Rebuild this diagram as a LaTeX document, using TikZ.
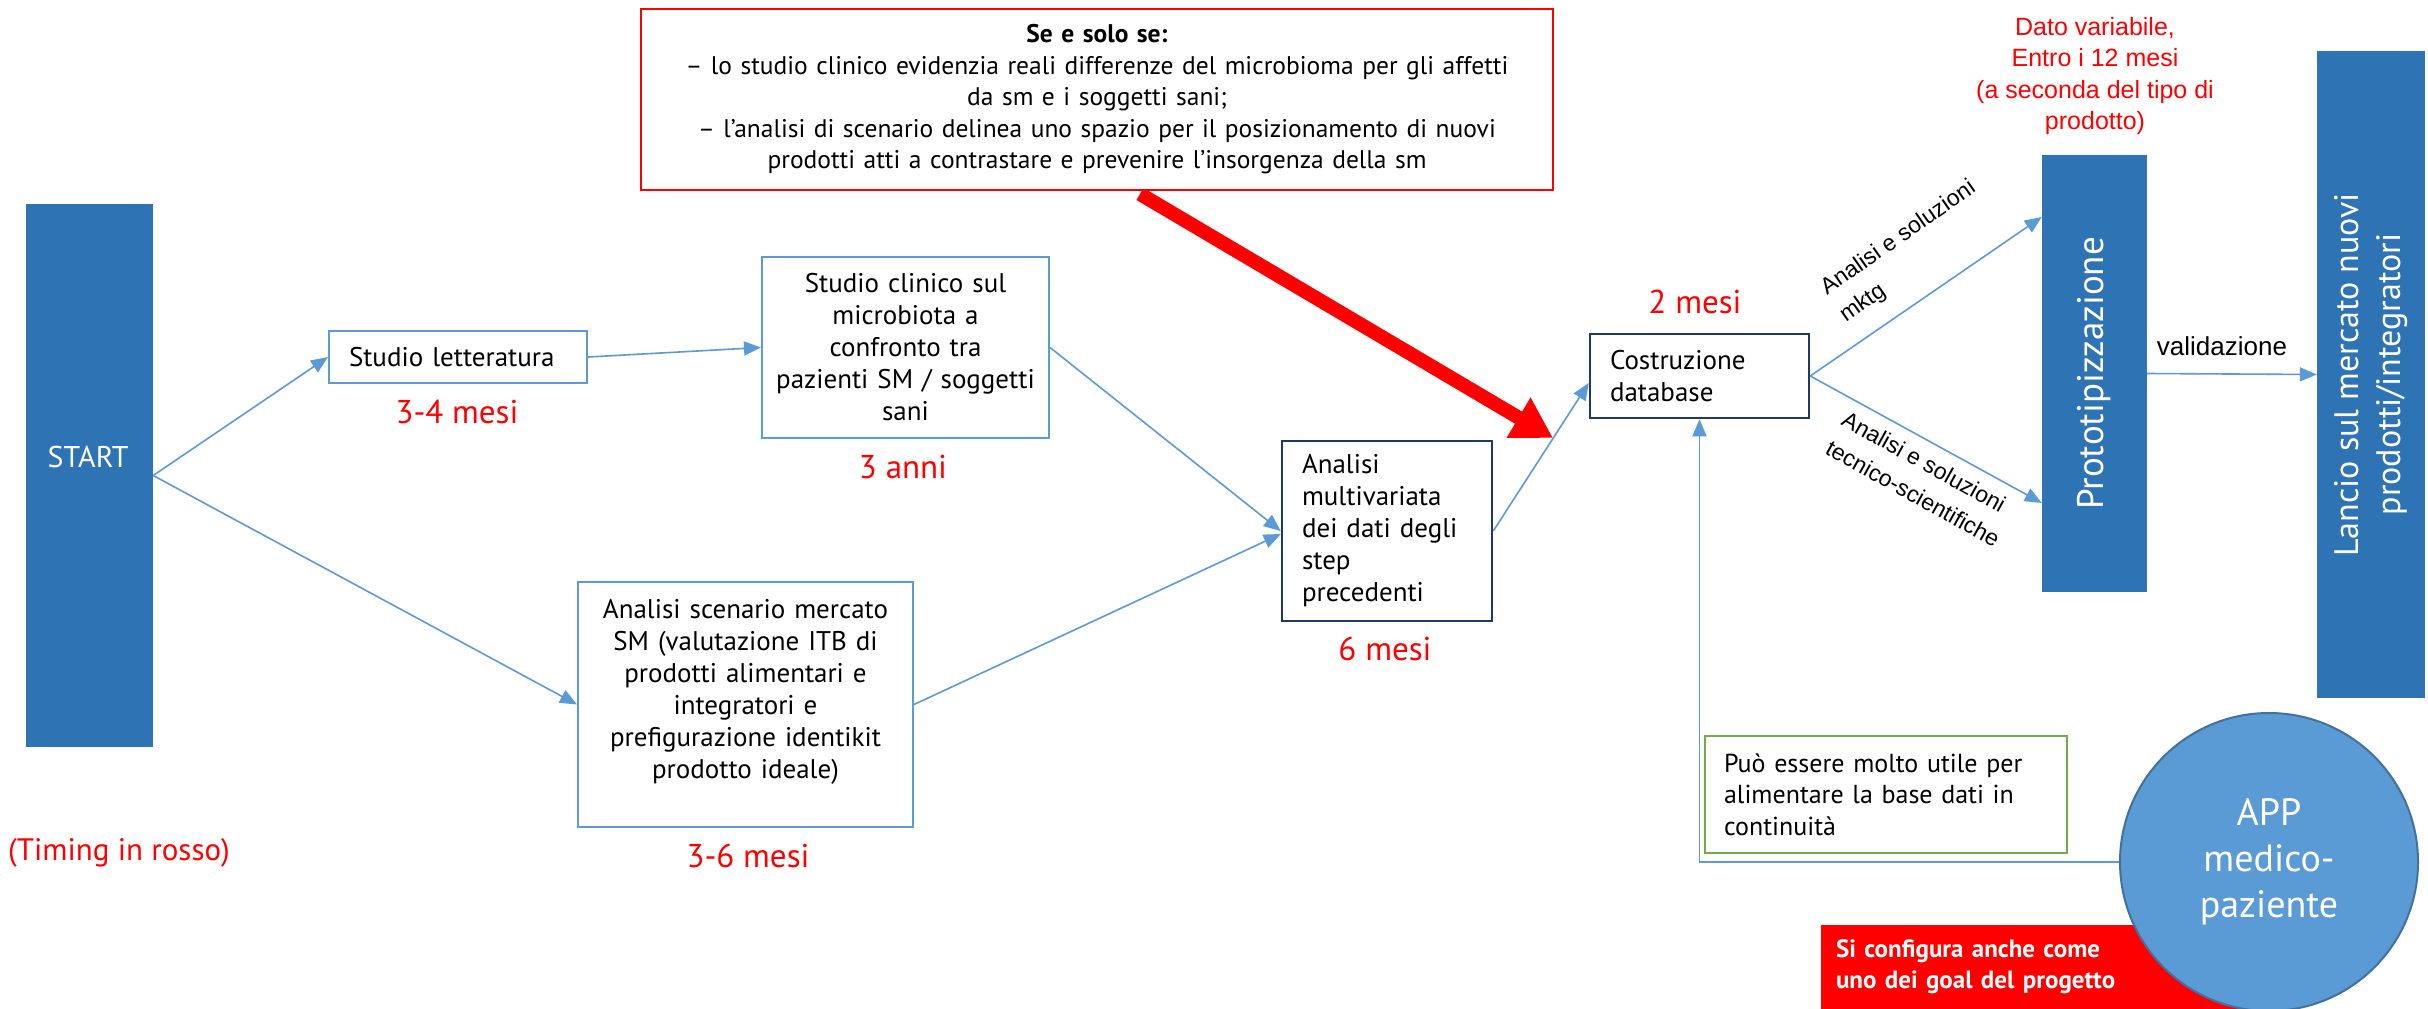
\documentclass[tikz,border=0pt]{standalone}
\usepackage{fontspec}
\usepackage{graphicx}
\setmainfont{PT Sans}
\newfontfamily\lsans{Liberation Sans}
\usetikzlibrary{arrows.meta,calc}
\definecolor{pblue}{HTML}{2E74B5}
\definecolor{lblue}{HTML}{5B9BD5}
\definecolor{navy}{HTML}{203864}
\definecolor{cgreen}{HTML}{70AD47}
\definecolor{cborder}{HTML}{41719C}
\definecolor{cred}{HTML}{FF0000}
\newcommand{\fsz}[2]{\fontsize{#1}{#2}\selectfont}
\begin{document}
\begin{tikzpicture}[x=1pt,y=-1pt,
  conn/.style={draw=lblue, line width=1.6pt, -{Triangle[length=17pt,width=14pt]}},
  lbox/.style={draw=lblue, line width=2pt, fill=white, inner ysep=0pt, font=\fsz{27}{32}},
  nbox/.style={draw=navy, line width=2.5pt, fill=white, inner ysep=0pt, font=\fsz{27}{32}},
  bluebar/.style={fill=pblue, draw=none, inner sep=0pt, text=white},
  timing/.style={text=cred, font=\fsz{33}{40}, inner sep=0pt},
  side/.style={font=\lsans\fsz{23}{33}, inner sep=0pt, align=left},
]
\useasboundingbox (0,0) rectangle (2428,1009);
\clip (0,0) rectangle (2428,1009);
\fill[white] (0,0) rectangle (2428,1009);

% START
\node[bluebar, minimum width=127pt, minimum height=543pt] (start) at (89.5,475.5) {};
\node[text=white, font=\fsz{30}{36}, inner sep=0pt] (starttxt) at (88,457) {START};
\node[timing, font=\fsz{31}{38}, anchor=west] (timing) at (8,853) {(Timing in rosso)};

% boxes
\node[lbox, minimum width=258pt, minimum height=52pt, text width=218pt, align=left, inner xsep=20pt] (lett) at (458,357) {Studio letteratura};
\node[timing] (t1) at (457,412) {3-4 mesi};

\node[lbox, minimum width=287pt, minimum height=181pt, text width=267pt, align=center, inner xsep=10pt] (clin) at (905.5,347.5) {Studio clinico sul\\microbiota a\\confronto tra\\pazienti SM / soggetti\\sani};
\node[timing] (t2) at (903,467) {3 anni};

\node[lbox, minimum width=335pt, minimum height=245pt, text width=315pt, align=center, inner xsep=10pt] (scen) at (745.5,704.5) {Analisi scenario mercato\\SM (valutazione ITB di\\prodotti alimentari e\\integratori e\\prefigurazione identikit\\prodotto ideale)\\~};
\node[timing] (t3) at (748,856) {3-6 mesi};

\node[nbox, minimum width=210pt, minimum height=180pt, text width=170pt, align=left, inner xsep=20pt] (multi) at (1387,531) {Analisi\\multivariata\\dei dati degli\\step\\precedenti};
\node[timing] (t4) at (1385,649) {6 mesi};

\node[nbox, minimum width=219pt, minimum height=84pt, text width=179pt, align=left, inner xsep=20pt] (costr) at (1699.5,376) {Costruzione\\database};
\node[timing] (t5) at (1695,302) {2 mesi};

\node[bluebar, minimum width=105pt, minimum height=437pt, font=\fsz{37}{44}] (proto) at (2094.5,373.5) {\rotatebox{90}{Prototipizzazione}};

\node[bluebar, minimum width=108pt, minimum height=647pt, font=\fsz{34}{42}] (lancio) at (2371,374.5) {\rotatebox{90}{\begin{tabular}{@{}c@{}}Lancio sul mercato nuovi\\prodotti/integratori\end{tabular}}};

\node[text=cred, font=\lsans\fsz{25}{31.5}, align=center, inner sep=0pt] (dato) at (2095,76) {Dato variabile,\\Entro i 12 mesi\\(a seconda del tipo di\\prodotto)};

% red condition arrow (behind the box)
\coordinate (rs) at (1140,194);
\coordinate (rtip) at (1553,438);
\draw[cred, line width=14pt, -{Triangle[length=40pt,width=44pt]}] (rs) -- (rtip);

\node[draw=cred, line width=2pt, fill=white, minimum width=912pt, minimum height=181pt, text width=892pt, align=center, inner xsep=10pt, inner ysep=0pt, font=\fsz{25.5}{31.5}] (cond) at (1097,99.5) {\textbf{Se e solo se:}\\– lo studio clinico evidenzia reali differenze del microbioma per gli affetti\\da sm e i soggetti sani;\\– l’analisi di scenario delinea uno spazio per il posizionamento di nuovi\\prodotti atti a contrastare e prevenire l’insorgenza della sm};

% bottom right
\node[draw=cgreen, line width=2pt, fill=white, minimum width=362pt, minimum height=117pt, text width=324pt, align=left, inner xsep=19pt, inner ysep=0pt, font=\fsz{26}{31.5}] (note) at (1886,794.5) {Può essere molto utile per\\alimentare la base dati in\\continuità};

\node[fill=cred, minimum width=439pt, minimum height=84pt, text width=409pt, align=left, inner xsep=15pt, inner ysep=0pt, text=white, font=\bfseries\fsz{25}{31}] (goal) at (2040.5,967) {Si configura anche come\\uno dei goal del progetto};

\draw[conn] (2121,862) -| (costr.south);
\node[circle, fill=lblue, draw=cborder, line width=2pt, minimum size=298pt, inner sep=0pt, text=white, align=center, font=\fsz{38}{46}] (app) at (2269,862) {APP\\medico-\\paziente};

% connectors
\draw[conn] (start.east) -- (lett.west);
\draw[conn] (start.east) -- (scen.west);
\draw[conn] (lett.east) -- (clin.west);
\draw[conn] (clin.east) -- (multi.west);
\draw[conn] (scen.east) -- ($(multi.west)+(0,3)$);
\draw[conn] (multi.east) -- ($(costr.west)+(0,7)$);
\draw[conn] (costr.east) -- ($(proto.north west)!0.142!(proto.south west)$);
\draw[conn] (costr.east) -- ($(proto.north west)!0.796!(proto.south west)$);
\draw[conn] (proto.east) -- (lancio.west);

\node[font=\lsans\fsz{26}{31}, inner sep=0pt] (valid) at (2222,346) {validazione};
\node[side, rotate=35] (lab1) at (1908,252) {Analisi e soluzioni\\mktg};
\node[side, rotate=-29] (lab2) at (1921,479) {Analisi e soluzioni\\tecnico-scientifiche};
\end{tikzpicture}
\end{document}
